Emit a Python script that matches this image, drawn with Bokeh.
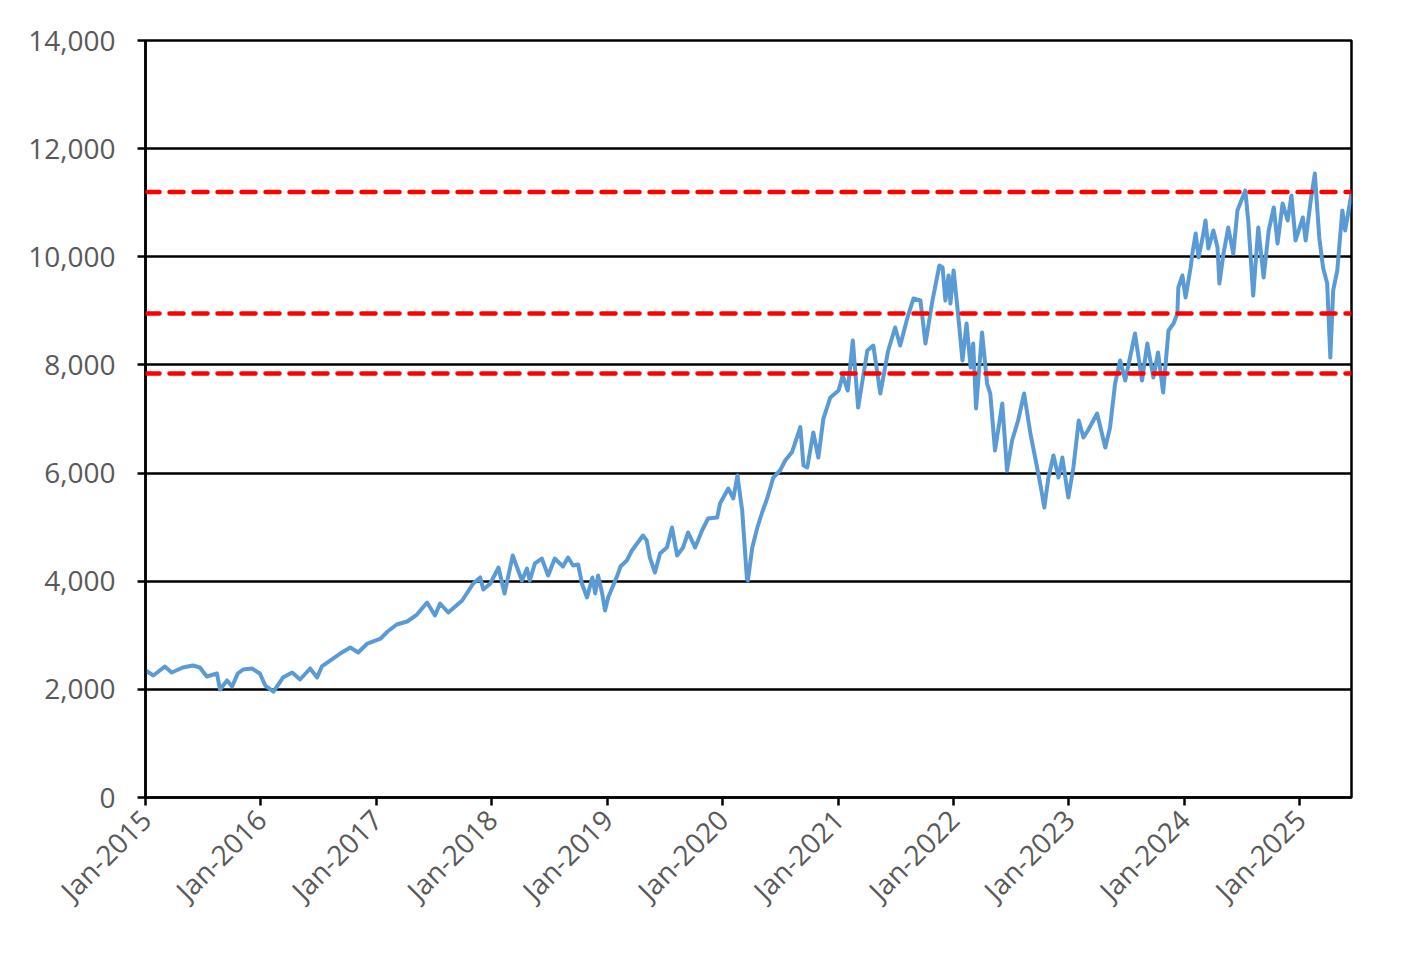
import math
import pandas as pd
from bokeh.plotting import figure
from bokeh.models import Range1d, DatetimeTickFormatter, NumeralTickFormatter, Span, FixedTicker
from bokeh.embed import file_html
from bokeh.resources import INLINE

dates = [
    "2015-01-01", "2015-01-26", "2015-03-03", "2015-03-25", "2015-04-29", "2015-05-31", "2015-06-22",
    "2015-07-14", "2015-08-15", "2015-08-25", "2015-09-16", "2015-10-02", "2015-10-20", "2015-11-06",
    "2015-12-04", "2015-12-29", "2016-01-15", "2016-02-10", "2016-03-11", "2016-04-09", "2016-05-04",
    "2016-06-05", "2016-06-27", "2016-07-12", "2016-09-08", "2016-10-10", "2016-11-04", "2016-12-03",
    "2017-01-14", "2017-02-05", "2017-03-06", "2017-04-08", "2017-05-09", "2017-06-10", "2017-07-05",
    "2017-07-21", "2017-08-16", "2017-09-29", "2017-11-03", "2017-11-25", "2017-12-05", "2017-12-27",
    "2018-01-22", "2018-02-10", "2018-03-08", "2018-04-06", "2018-04-22", "2018-05-01", "2018-05-17",
    "2018-06-08", "2018-06-28", "2018-07-19", "2018-08-14", "2018-08-30", "2018-09-15", "2018-10-01",
    "2018-10-13", "2018-10-29", "2018-11-15", "2018-11-24", "2018-12-03", "2018-12-16", "2018-12-25",
    "2019-01-04", "2019-02-02", "2019-02-12", "2019-03-04", "2019-03-20", "2019-04-08", "2019-04-24",
    "2019-05-06", "2019-05-16", "2019-06-01", "2019-06-17", "2019-07-09", "2019-07-25", "2019-08-10",
    "2019-08-29", "2019-09-14", "2019-10-06", "2019-10-28", "2019-11-16", "2019-12-15", "2019-12-24",
    "2020-01-19", "2020-02-04", "2020-02-17", "2020-03-03", "2020-03-18", "2020-03-21", "2020-04-04",
    "2020-04-20", "2020-05-05", "2020-05-21", "2020-06-09", "2020-07-01", "2020-07-17", "2020-08-08",
    "2020-09-03", "2020-09-13", "2020-09-25", "2020-10-14", "2020-10-30", "2020-11-15", "2020-12-07",
    "2021-01-02", "2021-01-15", "2021-01-31", "2021-02-16", "2021-03-05", "2021-04-03", "2021-04-22",
    "2021-05-14", "2021-06-08", "2021-06-30", "2021-07-16", "2021-08-08", "2021-08-27", "2021-09-18",
    "2021-10-04", "2021-10-26", "2021-11-17",
    "2021-11-27", "2021-12-06", "2021-12-16", "2021-12-22", "2022-01-01", "2022-01-14", "2022-01-29",
    "2022-02-11", "2022-02-24", "2022-03-04", "2022-03-13", "2022-04-01", "2022-04-17", "2022-04-27",
    "2022-05-12", "2022-06-04", "2022-06-19", "2022-07-05", "2022-07-24", "2022-08-12", "2022-09-01",
    "2022-09-16", "2022-10-02", "2022-10-15", "2022-10-28", "2022-11-13", "2022-11-29", "2022-12-11",
    "2022-12-30", "2023-01-15", "2023-02-01", "2023-02-16", "2023-03-02", "2023-03-31", "2023-04-26",
    "2023-05-11", "2023-05-27", "2023-06-12",
    "2023-06-28", "2023-07-29", "2023-08-20", "2023-09-06", "2023-09-25", "2023-10-10", "2023-10-26",
    "2023-11-12", "2023-11-28", "2023-12-10", "2023-12-13", "2023-12-26", "2024-01-05", "2024-01-21",
    "2024-01-27", "2024-02-06", "2024-02-15", "2024-02-28", "2024-03-08", "2024-03-17", "2024-04-02",
    "2024-04-15", "2024-04-21", "2024-05-04", "2024-05-19", "2024-06-04", "2024-06-17", "2024-07-12",
    "2024-07-22", "2024-08-06", "2024-08-22", "2024-09-08", "2024-09-24", "2024-10-10", "2024-10-22",
    "2024-11-07", "2024-11-23", "2024-12-05", "2024-12-18", "2025-01-10", "2025-01-19", "2025-02-04",
    "2025-02-17", "2025-03-03", "2025-03-15", "2025-03-28", "2025-04-07", "2025-04-16", "2025-04-29",
    "2025-05-15", "2025-05-24", "2025-06-13",
]

values = [
    2350, 2256, 2423, 2312, 2404, 2441, 2404,
    2238, 2293, 1997, 2164, 2053, 2293, 2367,
    2386, 2293, 2071, 1960, 2219, 2312, 2182,
    2386, 2219, 2423, 2663, 2774, 2682, 2848,
    2940, 3070, 3199, 3255, 3384, 3606, 3366,
    3588, 3421, 3643, 3958, 4069, 3847, 3958,
    4254, 3773, 4476, 4013, 4235, 4013, 4328,
    4420, 4106, 4420, 4272, 4438, 4290, 4309,
    3958, 3699, 4069, 3773, 4106, 3773, 3458,
    3699, 4106, 4272, 4383, 4568, 4716, 4845,
    4753, 4438, 4161, 4513, 4624, 4993, 4476,
    4624, 4901, 4624, 4938, 5160, 5178, 5437,
    5715, 5530, 5955, 5308, 4050, 4013, 4624,
    4993, 5271, 5530, 5910, 6048, 6233, 6390,
    6850, 6140, 6103, 6750, 6288, 7009, 7398,
    7527, 7805, 7527, 8452, 7213, 8267, 8359,
    7471, 8267, 8692, 8359, 8877, 9228, 9191,
    8396, 9191, 9839,
    9802, 9191, 9654, 9136, 9746, 9006, 8082,
    8766, 7952, 8396, 7194, 8600, 7656, 7471,
    6417, 7287, 6048, 6602, 6972, 7471, 6732,
    6288, 5807, 5363, 5918, 6325, 5918, 6288,
    5548, 6103, 6972, 6658, 6787, 7102, 6473,
    6843, 7656, 8082,
    7712, 8581, 7712, 8396, 7767, 8230, 7490,
    8637, 8766, 8951, 9432, 9654, 9247, 9802,
    10079, 10430, 9987, 10357, 10671, 10153, 10486,
    10171, 9506, 10060, 10541, 10060, 10856, 11226,
    10615, 9284, 10541, 9617, 10486, 10911, 10245,
    10985, 10671, 11133, 10301, 10726, 10301, 11041,
    11540, 10357, 9802, 9506, 8137, 9376, 9746,
    10856, 10486, 11170,
]
assert len(dates) == len(values)

levels = [11200, 8950, 7840]

y_ticks = [0, 2000, 4000, 6000, 8000, 10000, 12000, 14000]
x_tick_dates = ["%d-01-01" % y for y in range(2015, 2026)]

x = pd.to_datetime(dates)
x_ticks_ms = [pd.Timestamp(d).value / 1e6 for d in x_tick_dates]

p = figure(
    width=1404, height=938,
    x_axis_type="datetime",
    x_range=Range1d(pd.Timestamp("2015-01-01"), pd.Timestamp("2025-06-13")),
    y_range=Range1d(0, 14000),
    output_backend="svg", toolbar_location=None,
    min_border_left=145, min_border_right=53, min_border_top=40, min_border_bottom=141,
)
p.background_fill_color = "white"
p.border_fill_color = "white"
p.outline_line_color = "black"
p.outline_line_width = 2.5

p.xgrid.grid_line_color = None
p.ygrid.grid_line_color = "black"
p.ygrid.grid_line_width = 2.5
p.yaxis.ticker = FixedTicker(ticks=y_ticks)
p.ygrid.ticker = FixedTicker(ticks=y_ticks)
p.yaxis.formatter = NumeralTickFormatter(format="0,0")

p.xaxis.ticker = FixedTicker(ticks=x_ticks_ms)
fmt = "%b-%Y"
p.xaxis.formatter = DatetimeTickFormatter(years=fmt, months=fmt, days=fmt, hours=fmt,
                                          minutes=fmt, seconds=fmt, milliseconds=fmt,
                                          microseconds=fmt, minsec=fmt, hourmin=fmt)
p.xaxis.major_label_orientation = math.pi / 4

for ax in (p.xaxis, p.yaxis):
    ax.axis_line_color = "black"
    ax.axis_line_width = 2.5
    ax.major_tick_line_color = "black"
    ax.major_tick_line_width = 2.5
    ax.major_tick_out = 8
    ax.major_tick_in = 0
    ax.minor_tick_line_color = None
    ax.major_label_text_font = "Open Sans"
    ax.major_label_text_font_size = "28px"
    ax.major_label_text_color = "#595959"
p.yaxis.major_label_standoff = 22
p.xaxis.major_label_standoff = 9

p.line(x, values, line_color="#5B9BD5", line_width=4, line_join="round")

for lv in levels:
    p.add_layout(Span(location=lv, dimension="width", line_color="#FF0000",
                      line_width=4.5, line_dash="14 10", line_cap="round"))

open("out.html", "w").write(file_html(p, INLINE))
